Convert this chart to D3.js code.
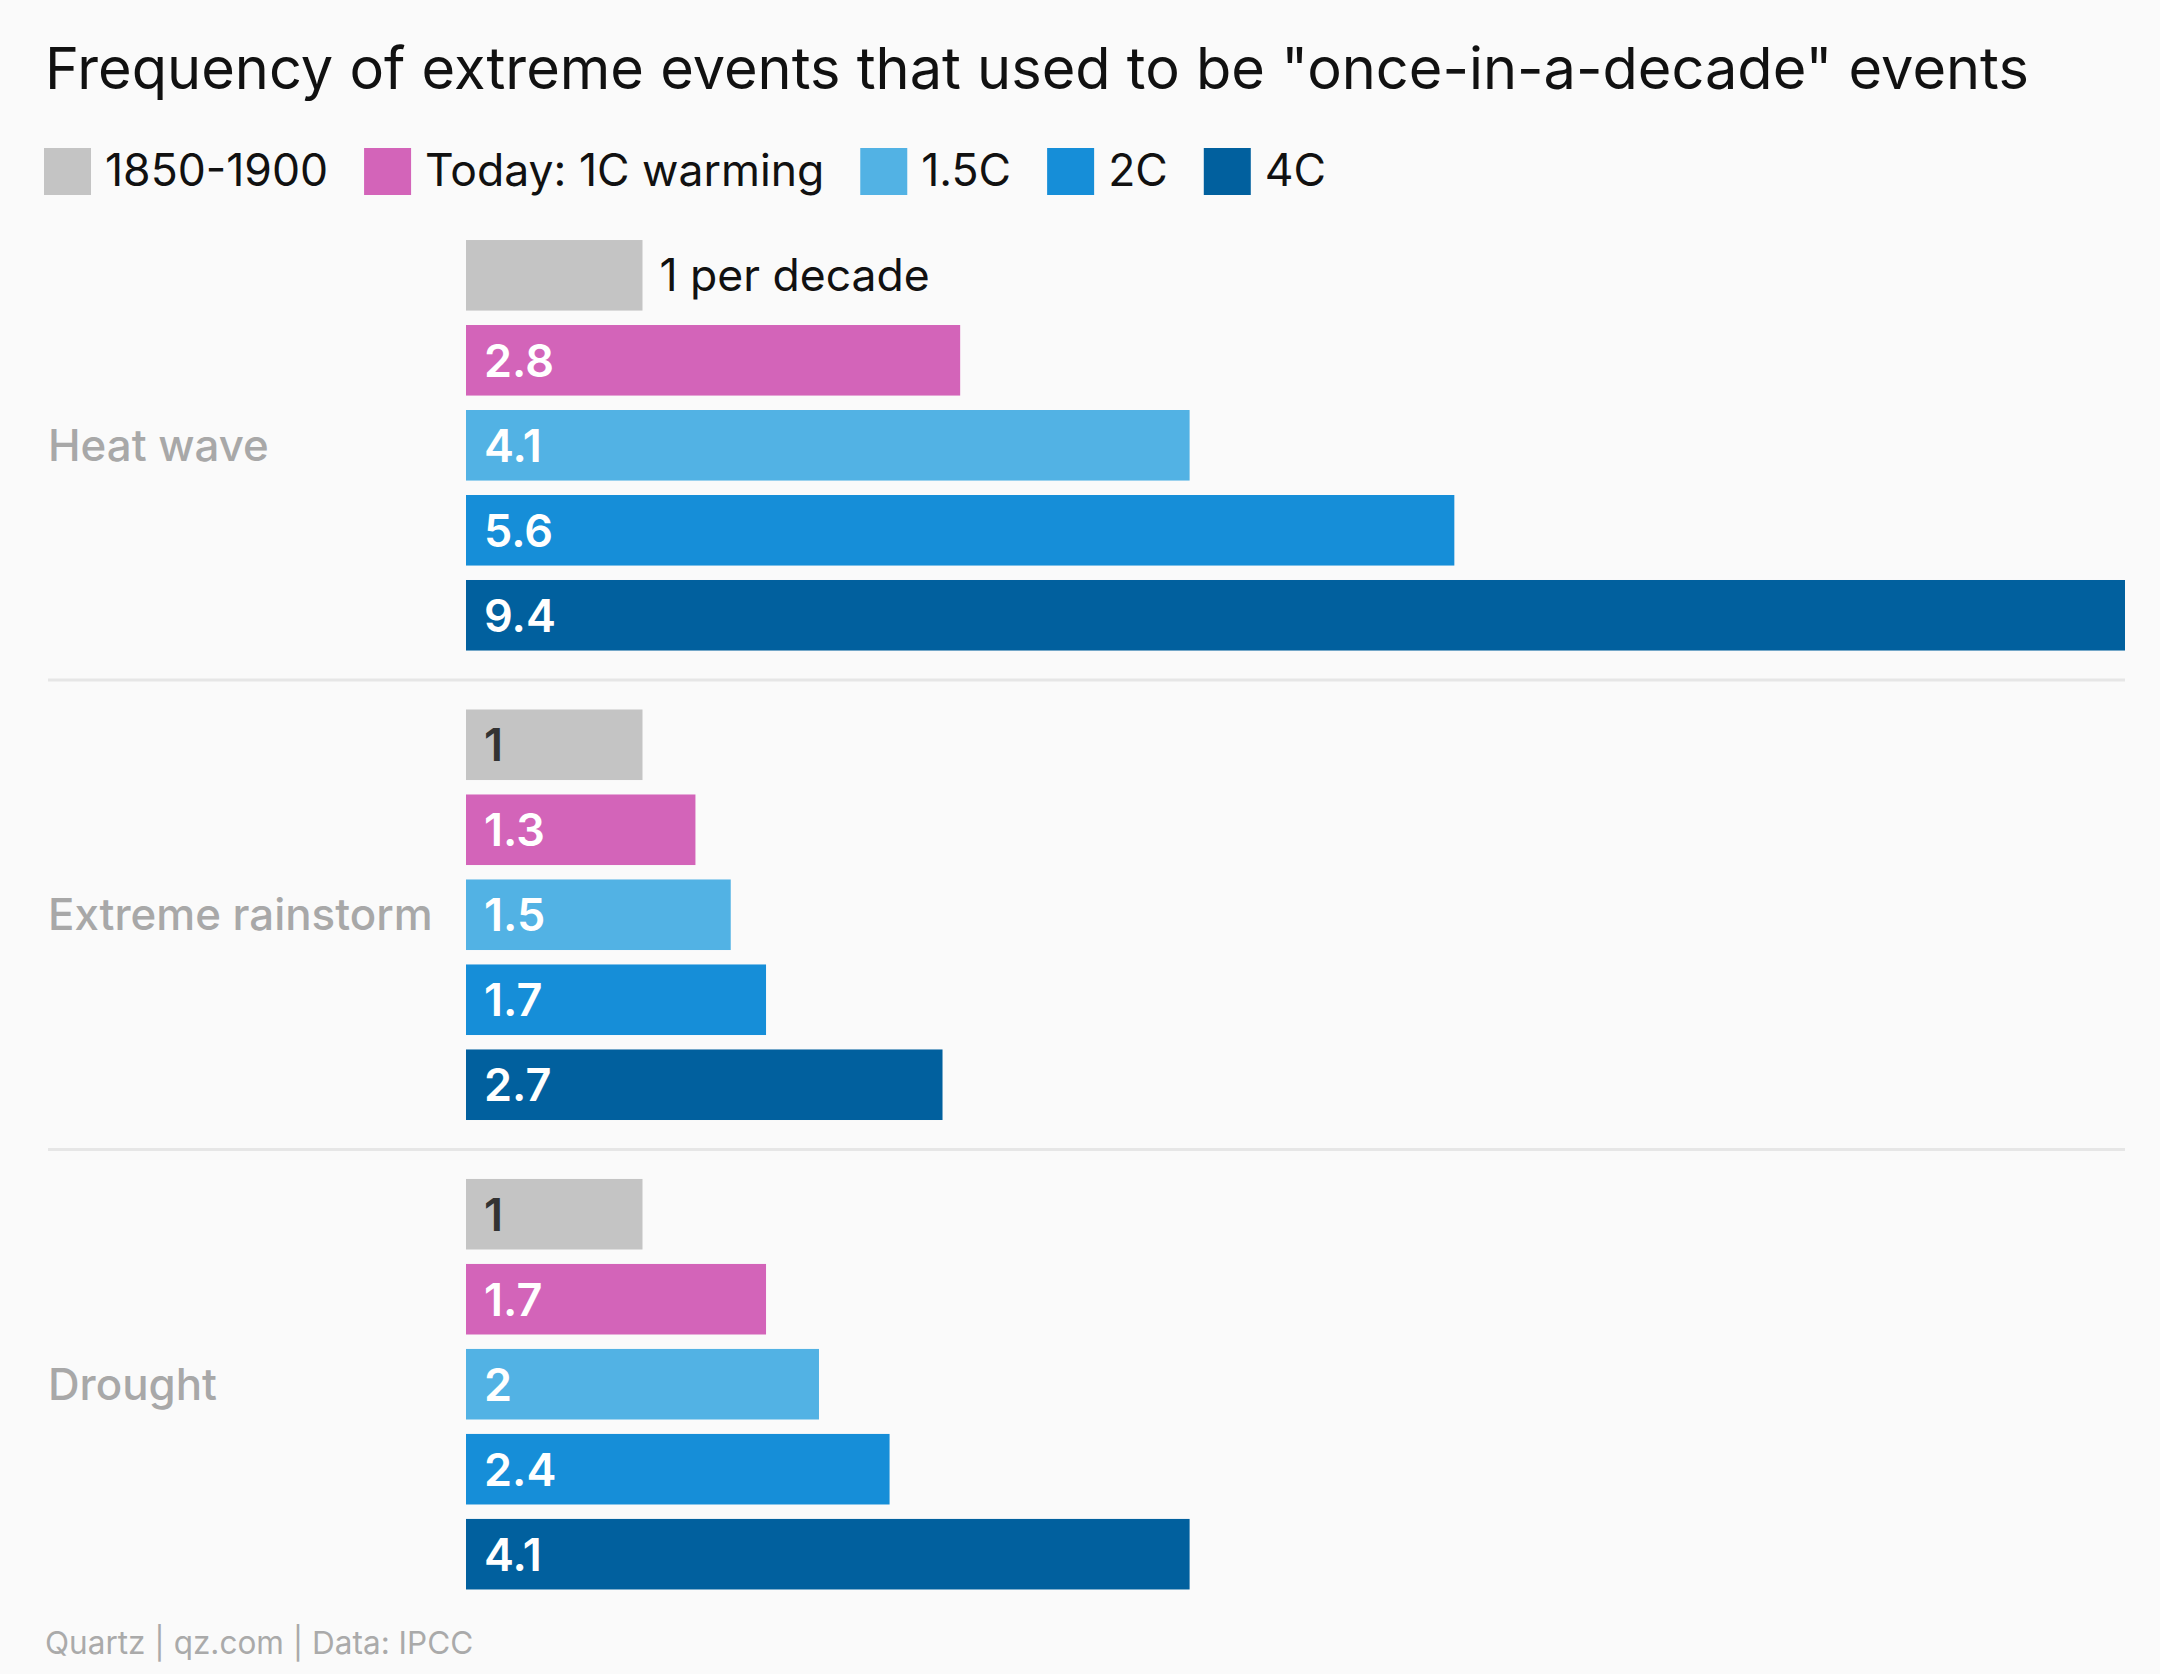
<!DOCTYPE html>
<html>
<head>
<meta charset="utf-8">
<script src="https://d3js.org/d3.v7.min.js"></script>
<style>
  html, body { margin: 0; padding: 0; background: #fafafa; }
  svg { display: block; font-family: Inter, "Noto Sans", sans-serif; }
</style>
</head>
<body>
<div id="chart"></div>
<script>
// Frequency of once-in-a-decade events, per decade
const categories = ["Heat wave", "Extreme rainstorm", "Drought"];
const series = ["1850-1900", "Today: 1C warming", "1.5C", "2C", "4C"];
const colors = ["#c4c4c4", "#d364b9", "#52b2e4", "#168ed8", "#01609e"];

const heatWave = [1, 2.8, 4.1, 5.6, 9.4];
const rainstorm = [1, 1.3, 1.5, 1.7, 2.7];
const drought = [1, 1.7, 2, 2.4, 4.1];
const values = [heatWave, rainstorm, drought];

const width = 2160;
const height = 1674;

const svg = d3.select('#chart')
    .append('svg')
    .attr('width', width)
    .attr('height', height)
    .style('background', '#fafafa');

// Title
svg.append('text')
    .attr('x', 45)
    .attr('y', 89)
    .attr('font-size', '57.7px')
    .attr('fill', '#111')
    .text('Frequency of extreme events that used to be "once-in-a-decade" events');

// Legend, laid out by measured text widths
const legend = svg.append('g').attr('class', 'legend');
let lx = 44;
series.forEach((name, i) => {
    legend.append('rect')
        .attr('x', lx)
        .attr('y', 148)
        .attr('width', 47)
        .attr('height', 47)
        .attr('fill', colors[i]);
    const t = legend.append('text')
        .attr('x', lx + 61)
        .attr('y', 186)
        .attr('font-size', '44.5px')
        .attr('fill', '#111')
        .text(name);
    lx += 61 + t.node().getComputedTextLength() + 36;
});

// Scales
const x = d3.scaleLinear()
    .domain([0, 9.4])
    .range([466, 2125]);

const yGroup = d3.scaleBand()
    .domain(categories)
    .range([232.8, 1596.7])
    .paddingInner(0.0948);

const yBar = d3.scaleBand()
    .domain(series)
    .range([0, yGroup.bandwidth()])
    .paddingInner(0.17)
    .paddingOuter(0.085);

// Separators between groups
const step = yGroup.step();
svg.append('g')
    .selectAll('line')
    .data(categories.slice(1))
    .join('line')
    .attr('x1', 48)
    .attr('x2', 2125)
    .attr('y1', d => yGroup(d) - (step - yGroup.bandwidth()) / 2)
    .attr('y2', d => yGroup(d) - (step - yGroup.bandwidth()) / 2)
    .attr('stroke', '#e6e6e6')
    .attr('stroke-width', 3);

// Groups
const groups = svg.append('g')
    .selectAll('g')
    .data(categories)
    .join('g')
    .attr('transform', d => `translate(0, ${yGroup(d)})`);

groups.append('text')
    .attr('x', 48)
    .attr('y', yGroup.bandwidth() / 2)
    .attr('dominant-baseline', 'central')
    .attr('font-size', '43.8px')
    .attr('font-weight', 500)
    .attr('fill', '#a8a8a8')
    .text(d => d);

const bars = groups.selectAll('g.bar')
    .data((d, gi) => series.map((s, i) => ({ group: gi, series: s, index: i, value: values[gi][i] })))
    .join('g')
    .attr('class', 'bar');

bars.append('rect')
    .attr('x', x(0))
    .attr('y', d => yBar(d.series))
    .attr('width', d => x(d.value) - x(0))
    .attr('height', yBar.bandwidth())
    .attr('fill', d => colors[d.index]);

// Value labels: the first baseline bar gets an outside label
bars.append('text')
    .attr('x', d => (d.group === 0 && d.index === 0) ? x(d.value) + 17 : x(0) + 18)
    .attr('y', d => yBar(d.series) + yBar.bandwidth() / 2)
    .attr('dominant-baseline', 'central')
    .attr('font-size', d => (d.group === 0 && d.index === 0) ? '44.5px' : '45px')
    .attr('font-weight', d => (d.group === 0 && d.index === 0) ? 400 : 600)
    .attr('fill', d => {
        if (d.group === 0 && d.index === 0) return '#111';
        return d.index === 0 ? '#333' : '#fff';
    })
    .text(d => (d.group === 0 && d.index === 0) ? `${d.value} per decade` : `${d.value}`);

// Footer
svg.append('text')
    .attr('x', 45)
    .attr('y', 1654)
    .attr('font-size', '31.5px')
    .attr('fill', '#aaaaaa')
    .text('Quartz | qz.com | Data: IPCC');
</script>
</body>
</html>
